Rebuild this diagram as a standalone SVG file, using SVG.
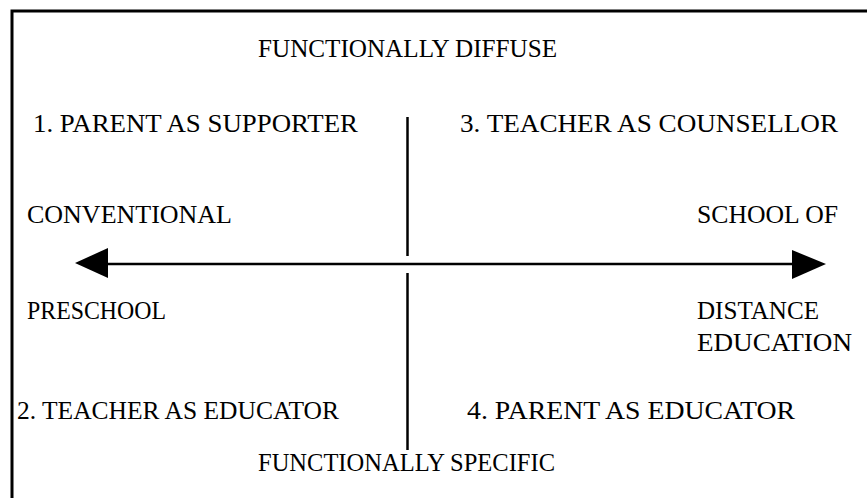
<svg xmlns="http://www.w3.org/2000/svg" width="867" height="498" viewBox="0 0 867 498">
<style>
.t{font-family:"Liberation Serif","Times New Roman",serif;font-size:25px;fill:#000}
.ln{stroke:#000;stroke-width:2.5;fill:none}
.frame{stroke:#000;stroke-width:3;fill:none}
</style>
<rect width="867" height="498" fill="#fff"/>
<g id="frame"><path class="frame" d="M12,498 V11 H867"/></g>
<g id="connectors">
<line class="ln" x1="407.5" y1="117" x2="407.5" y2="256"/>
<line class="ln" x1="407.5" y1="273" x2="407.5" y2="450"/>
<line class="ln" x1="105" y1="264" x2="795" y2="264"/>
<polygon points="75,263 108,248 108,278" fill="#000"/>
<polygon points="826,264 792,250 792,279" fill="#000"/>
</g>
<g id="diffuse"><text class="t" x="258" y="57" textLength="299" lengthAdjust="spacingAndGlyphs">FUNCTIONALLY DIFFUSE</text></g>
<g id="q1"><text class="t" x="33" y="132" textLength="325" lengthAdjust="spacingAndGlyphs">1. PARENT AS SUPPORTER</text></g>
<g id="q3"><text class="t" x="460" y="132" textLength="378" lengthAdjust="spacingAndGlyphs">3. TEACHER AS COUNSELLOR</text></g>
<g id="conventional"><text class="t" x="27" y="223" textLength="205" lengthAdjust="spacingAndGlyphs">CONVENTIONAL</text></g>
<g id="school"><text class="t" x="697" y="223" textLength="141" lengthAdjust="spacingAndGlyphs">SCHOOL OF</text></g>
<g id="preschool"><text class="t" x="27" y="319" textLength="139" lengthAdjust="spacingAndGlyphs">PRESCHOOL</text></g>
<g id="distance"><text class="t" x="697" y="319" textLength="122" lengthAdjust="spacingAndGlyphs">DISTANCE</text><text class="t" x="697" y="351" textLength="155" lengthAdjust="spacingAndGlyphs">EDUCATION</text></g>
<g id="q2"><text class="t" x="17" y="419" textLength="322" lengthAdjust="spacingAndGlyphs">2. TEACHER AS EDUCATOR</text></g>
<g id="q4"><text class="t" x="467" y="419" textLength="328" lengthAdjust="spacingAndGlyphs">4.  PARENT AS EDUCATOR</text></g>
<g id="specific"><text class="t" x="258" y="471" textLength="297" lengthAdjust="spacingAndGlyphs">FUNCTIONALLY SPECIFIC</text></g>
</svg>
